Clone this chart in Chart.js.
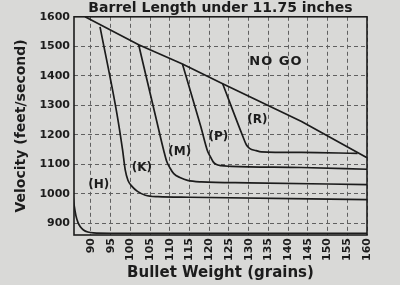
<!DOCTYPE html>
<html>
<head>
<meta charset="utf-8">
<script src="https://cdn.jsdelivr.net/npm/chart.js@4.4.1/dist/chart.umd.min.js"></script>
<style>
    html, body { margin: 0; padding: 0; background: #d9d9d7; }
    #wrap { width: 400px; height: 285px; }
</style>
</head>
<body>
<div id="wrap"><canvas id="chart" width="400" height="285"></canvas></div>
<script>
// Tick labels
const weightTicks = [90, 95, 100, 105, 110, 115, 120, 125, 130, 135, 140, 145, 150, 155, 160];
const velocityTicks = [900, 950, 1000, 1050, 1100, 1150, 1200, 1250, 1300, 1350, 1400, 1450, 1500, 1550, 1600];

// "NO GO" limit line
const limitWeight = [88.5, 102.1, 113.2, 123.4, 143.4, 160];
const limitVelocity = [1600, 1505, 1440, 1373, 1245, 1122];

// Curves (grains, ft/s)
const hWeight = [85.4, 85.8, 86.2, 86.7, 87.3, 88.1, 89.2, 90.6, 95, 120, 160];
const hVelocity = [1000, 955, 925, 903, 888, 877, 870, 867, 866, 866, 866];

const kWeight = [92.3, 96.6, 98.0, 98.7, 99.4, 100.4, 101.8, 103.8, 107, 115, 160];
const kVelocity = [1566, 1270, 1150, 1080, 1045, 1025, 1008, 995, 990, 988, 980];

const mWeight = [102.1, 106.4, 108.5, 109.2, 110, 111, 112.7, 114.5, 118, 130, 160];
const mVelocity = [1505, 1262, 1144, 1110, 1088, 1068, 1054, 1045, 1040, 1037, 1031];

const pWeight = [113.2, 117.85, 119.56, 120.3, 121, 121.7, 123, 125.5, 143.4, 160];
const pVelocity = [1440, 1228, 1145, 1125, 1108, 1100, 1095, 1093, 1089, 1083];

const rWeight = [123.4, 128.5, 129.4, 130.2, 131.9, 133.2, 143.4, 157.6];
const rVelocity = [1373, 1195, 1166, 1154, 1146, 1142, 1140, 1137];

// Notes on the plot
const noteText = ['NO GO', '(H)', '(K)', '(M)', '(P)', '(R)'];
const noteWeight = [136.9, 92.0, 102.9, 112.5, 122.3, 132.2];
const noteVelocity = [1447, 1030, 1088, 1143, 1194, 1250];

const INK = '#1c1c1c';
const FONT = 'DejaVu Sans';

function toPoints(xs, ys) {
    return xs.map((x, i) => ({ x: x, y: ys[i] }));
}

function curve(xs, ys, smooth) {
    return {
        data: toPoints(xs, ys),
        borderColor: INK,
        borderWidth: 1.7,
        pointRadius: 0,
        fill: false,
        tension: 0,
        cubicInterpolationMode: smooth ? 'monotone' : 'default'
    };
}

// Frame round the plot and the text notes
const framePlugin = {
    id: 'frame',
    afterDatasetsDraw(chart) {
        const { ctx, chartArea: a, scales } = chart;
        ctx.save();
        ctx.strokeStyle = INK;
        ctx.lineWidth = 1.6;
        ctx.strokeRect(a.left, a.top, a.right - a.left, a.bottom - a.top);
        ctx.fillStyle = INK;
        ctx.textAlign = 'center';
        ctx.textBaseline = 'middle';
        noteText.forEach((t, i) => {
            const big = t === 'NO GO';
            ctx.font = 'bold ' + (big ? 13 : 12) + 'px ' + FONT;
            ctx.letterSpacing = big ? '1px' : '0px';
            ctx.fillText(t, scales.x.getPixelForValue(noteWeight[i]), scales.y.getPixelForValue(noteVelocity[i]));
        });
        ctx.restore();
    }
};

const grid = { color: '#606060', lineWidth: 1, drawTicks: false };
const border = { display: false, dash: [4, 3] };
const tickFont = { family: FONT, size: 11, weight: 'bold' };

new Chart(document.getElementById('chart'), {
    type: 'line',
    data: {
        datasets: [
            curve(limitWeight, limitVelocity, false),
            curve(hWeight, hVelocity, true),
            curve(kWeight, kVelocity, true),
            curve(mWeight, mVelocity, true),
            curve(pWeight, pVelocity, true),
            curve(rWeight, rVelocity, true)
        ]
    },
    options: {
        responsive: false,
        animation: false,
        layout: { padding: { left: 0, right: 33, top: 0, bottom: 0 } },
        plugins: {
            legend: { display: false },
            tooltip: { enabled: false },
            title: {
                display: true,
                text: 'Barrel Length under 11.75 inches',
                color: INK,
                fullSize: false,
                font: { family: FONT, size: 14, weight: 'bold' },
                padding: { top: 0, bottom: 0 }
            }
        },
        scales: {
            x: {
                type: 'linear',
                min: 85.7,
                max: 160,
                grid: grid,
                border: border,
                afterBuildTicks: s => { s.ticks = weightTicks.map(v => ({ value: v })); },
                afterFit: s => { s.height = 50; },
                ticks: { color: INK, font: tickFont, padding: 3, minRotation: 90, maxRotation: 90, callback: v => String(v) },
                title: {
                    display: true,
                    text: 'Bullet Weight (grains)',
                    color: INK,
                    font: { family: FONT, size: 15, weight: 'bold' },
                    padding: { top: 0, bottom: 3 }
                }
            },
            y: {
                min: 860,
                max: 1600,
                grid: grid,
                border: border,
                afterBuildTicks: s => { s.ticks = velocityTicks.map(v => ({ value: v })); },
                afterFit: s => { s.width = 74; },
                ticks: { color: INK, font: tickFont, padding: 4, callback: v => String(v) },
                title: {
                    display: true,
                    text: 'Velocity (feet/second)',
                    color: INK,
                    font: { family: FONT, size: 14, weight: 'bold' },
                    padding: { top: 13, bottom: 0 }
                }
            }
        }
    },
    plugins: [framePlugin]
});
</script>
</body>
</html>
